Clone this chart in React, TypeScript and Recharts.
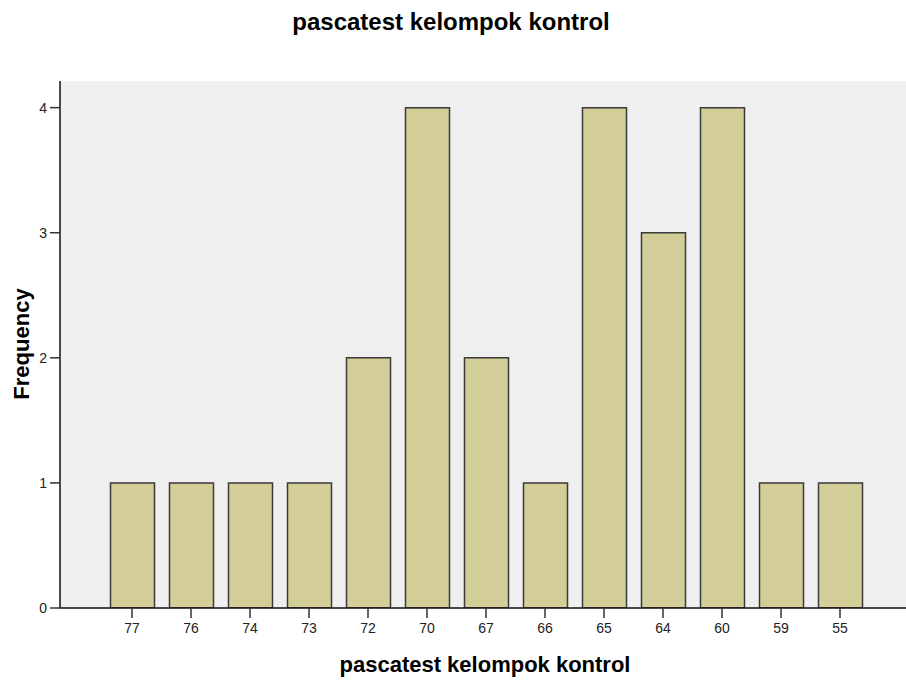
import React from "react";
import { BarChart, Bar, XAxis, YAxis, CartesianGrid } from "recharts";

const categories = ["77", "76", "74", "73", "72", "70", "67", "66", "65", "64", "60", "59", "55"];
const frequencies = [1, 1, 1, 1, 2, 4, 2, 1, 4, 3, 4, 1, 1];
const yTicks = [0, 1, 2, 3, 4];
const titleText = "pascatest kelompok kontrol";
const xLabelText = "pascatest kelompok kontrol";
const yLabelText = "Frequency";

const data = categories.map((c, i) => ({ score: c, freq: frequencies[i] }));

const FONT = '"Liberation Sans", Arial, Helvetica, sans-serif';

export default function App() {
  return (
    <div style={{ position: "absolute", left: 0, top: 0, width: 906, height: 683, background: "#fff" }}>
      <BarChart
        width={906}
        height={683}
        data={data}
        margin={{ top: 81, right: 0, bottom: 35, left: 0 }}
      >
        <CartesianGrid fill="#EFEFEF" horizontal={false} vertical={false} stroke="none" />
        <XAxis
          xAxisId="top"
          orientation="top"
          dataKey="score"
          height={0}
          tick={false}
          tickLine={false}
          axisLine={{ stroke: "#7a7a7a", strokeWidth: 2 }}
          padding={{ left: 42.5, right: 36.5 }}
        />
        <XAxis
          dataKey="score"
          height={40}
          padding={{ left: 42.5, right: 36.5 }}
          tickSize={10}
          tickMargin={5}
          axisLine={{ stroke: "#111", strokeWidth: 1.5 }}
          tickLine={{ stroke: "#333", strokeWidth: 1.5 }}
          tick={{ fill: "#222", fontSize: 14, fontFamily: FONT }}
          interval={0}
        />
        <YAxis
          width={60}
          domain={[0, 4.213]}
          ticks={yTicks}
          allowDataOverflow
          tickSize={10}
          tickMargin={3}
          axisLine={{ stroke: "#111", strokeWidth: 1.5 }}
          tickLine={{ stroke: "#333", strokeWidth: 1.5 }}
          tick={{ fill: "#222", fontSize: 14, fontFamily: FONT }}
        />
        <Bar
          dataKey="freq"
          barSize={44}
          fill="#D3CE97"
          stroke="#3a3a3a"
          strokeWidth={1.5}
          isAnimationActive={false}
        />
      </BarChart>
      <svg
        width={906}
        height={683}
        style={{ position: "absolute", left: 0, top: 0, pointerEvents: "none" }}
      >
        <text x={451} y={30} textAnchor="middle" fontFamily={FONT} fontWeight="bold" fontSize={24} fill="#000">
          {titleText}
        </text>
        <text x={485} y={672} textAnchor="middle" fontFamily={FONT} fontWeight="bold" fontSize={22} fill="#000">
          {xLabelText}
        </text>
        <text
          x={29}
          y={344}
          textAnchor="middle"
          fontFamily={FONT}
          fontWeight="bold"
          fontSize={22}
          fill="#000"
          transform="rotate(-90 29 344)"
        >
          {yLabelText}
        </text>
      </svg>
    </div>
  );
}
